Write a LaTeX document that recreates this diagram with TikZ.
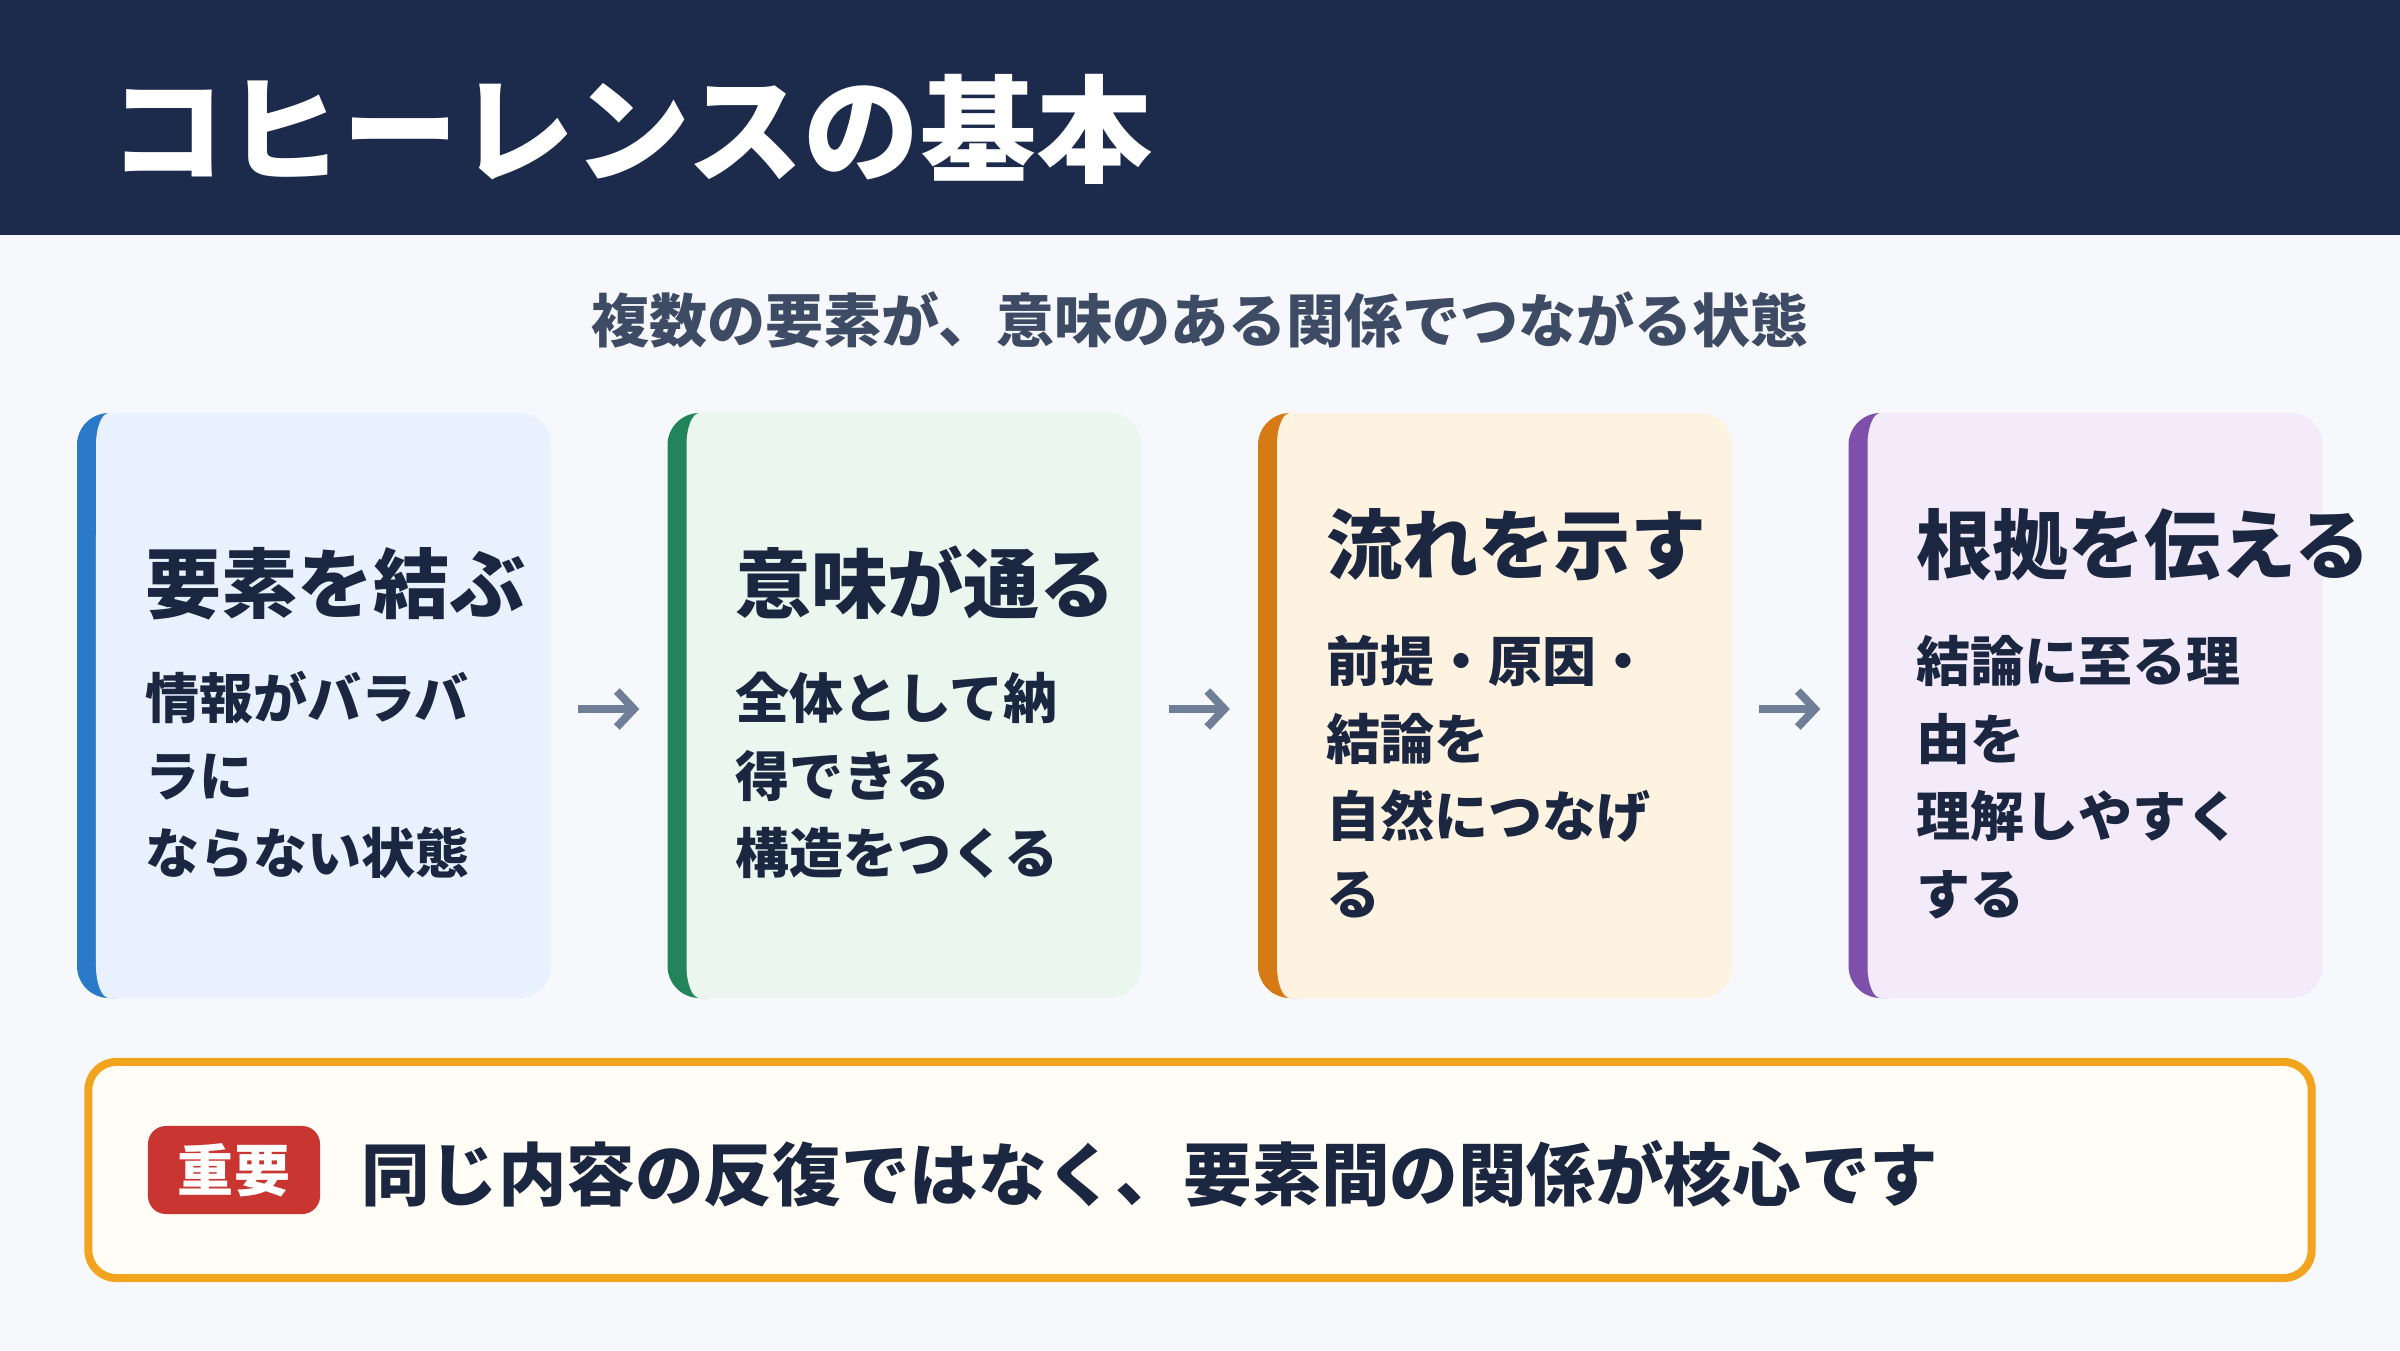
\documentclass[tikz,border=0pt]{standalone}
\usepackage{fontspec}
\setmainfont{Noto Sans CJK JP}
\usetikzlibrary{arrows.meta}
\definecolor{hdr}{HTML}{1C2B4B}
\definecolor{pagebg}{HTML}{F6F8FC}
\definecolor{subcol}{HTML}{3E4B64}
\definecolor{ink}{HTML}{1B2640}
\definecolor{arrcol}{HTML}{6F7F98}
\definecolor{sBlue}{HTML}{2A7AC9}\definecolor{fBlue}{HTML}{E8F1FD}
\definecolor{sGreen}{HTML}{23845A}\definecolor{fGreen}{HTML}{EAF6EE}
\definecolor{sOrange}{HTML}{D67A16}\definecolor{fOrange}{HTML}{FEF2E0}
\definecolor{sPurple}{HTML}{7E50AA}\definecolor{fPurple}{HTML}{F3EAFA}
\definecolor{noteBorder}{HTML}{F2A41F}\definecolor{noteFill}{HTML}{FFFDF6}
\definecolor{badgeRed}{HTML}{C93632}
\tikzset{
  every node/.style={inner sep=0pt, outer sep=0pt},
  titletext/.style={anchor=base west, text=white, font=\fontsize{33.0pt}{38pt}\selectfont\bfseries},
  subtext/.style={anchor=base, text=subcol, font=\fontsize{16.5pt}{20pt}\selectfont\bfseries},
  headtext/.style={anchor=base west, text=ink, font=\fontsize{21.62pt}{26pt}\selectfont\bfseries},
  bodytext/.style={anchor=base west, text=ink, font=\fontsize{15.36pt}{19pt}\selectfont\bfseries},
  cardbox/.style={minimum width=4.74cm, minimum height=5.85cm},
  flowarrow/.style={draw=arrcol, line width=0.08cm, -{Straight Barb[length=0.17cm,width=0.36cm]}},
  notebox/.style={draw=noteBorder, fill=noteFill, line width=0.08cm, rounded corners=0.28cm, minimum width=22.22cm, minimum height=2.16cm},
  badgebox/.style={fill=badgeRed, rounded corners=0.18cm, minimum width=1.72cm, minimum height=0.88cm, text=white, font=\fontsize{15.93pt}{19pt}\selectfont\bfseries},
  maintext/.style={anchor=base west, text=ink, font=\fontsize{19.5pt}{23pt}\selectfont\bfseries}
}
\newcommand\mycardshape[4]{%
  \begin{scope}[shift={(#1,0)}]
    \begin{scope}
      \clip (0,352) rectangle (40,937);
      \fill[#2, rounded corners=0.32cm] (0,352) rectangle (474,937);
    \end{scope}
    \fill[#3] (32,937) -- (442,937) arc[start angle=90,end angle=0,radius=0.32cm]
      -- (474,384) arc[start angle=0,end angle=-90,radius=0.32cm]
      -- (32,352) arc[start angle=270,end angle=180,x radius=0.13cm,y radius=0.32cm]
      -- (19,905) arc[start angle=180,end angle=90,x radius=0.13cm,y radius=0.32cm] -- cycle;
    \node[cardbox] (#4) at (237,644.5) {};
  \end{scope}}
\begin{document}
\begin{tikzpicture}[x=0.01cm,y=0.01cm]
\useasboundingbox (0,0) rectangle (2400,1350);
\fill[pagebg] (0,0) rectangle (2400,1350);
\fill[hdr] (0,1115) rectangle (2400,1350);
\node[titletext] (title) at (110,1177) {コヒーレンスの基本};
\node[subtext] (sub) at (1200,1008) {複数の要素が、意味のある関係でつながる状態};

\mycardshape{77}{sBlue}{fBlue}{c1}
\mycardshape{667.5}{sGreen}{fGreen}{c2}
\mycardshape{1258}{sOrange}{fOrange}{c3}
\mycardshape{1848.5}{sPurple}{fPurple}{c4}

% card 1
\node[headtext] (h1) at (145,738) {要素を結ぶ};
\node[bodytext] (b1a) at (145,631.5) {情報がバラバ};
\node[bodytext] (b1b) at (145,553.5) {ラに};
\node[bodytext] (b1c) at (145,476.5) {ならない状態};
% card 2
\node[headtext] (h2) at (735.5,738) {意味が通る};
\node[bodytext] (b2a) at (735.5,631.5) {全体として納};
\node[bodytext] (b2b) at (735.5,553.5) {得できる};
\node[bodytext] (b2c) at (735.5,476.5) {構造をつくる};
% card 3
\node[headtext] (h3) at (1326,777) {流れを示す};
\node[bodytext] (b3a) at (1326,668.5) {前提・原因・};
\node[bodytext] (b3b) at (1326,590.5) {結論を};
\node[bodytext] (b3c) at (1326,513.5) {自然につなげ};
\node[bodytext] (b3d) at (1326,435.5) {る};
% card 4
\node[headtext] (h4) at (1916.5,777) {根拠を伝える};
\node[bodytext] (b4a) at (1916.5,668.5) {結論に至る理};
\node[bodytext] (b4b) at (1916.5,590.5) {由を};
\node[bodytext] (b4c) at (1916.5,513.5) {理解しやすく};
\node[bodytext] (b4d) at (1916.5,435.5) {する};

\draw[flowarrow] ([xshift=0.27cm,yshift=-0.035cm]c1.east) -- ([xshift=-0.28cm,yshift=-0.035cm]c2.west);
\draw[flowarrow] ([xshift=0.27cm,yshift=-0.035cm]c2.east) -- ([xshift=-0.28cm,yshift=-0.035cm]c3.west);
\draw[flowarrow] ([xshift=0.27cm,yshift=-0.035cm]c3.east) -- ([xshift=-0.28cm,yshift=-0.035cm]c4.west);

\node[notebox] (note) at (1200,180) {};
\node[badgebox] (badge) at (234,180) {重要};
\node[maintext] (msg) at (361,150) {同じ内容の反復ではなく、要素間の関係が核心です};
\end{tikzpicture}
\end{document}
